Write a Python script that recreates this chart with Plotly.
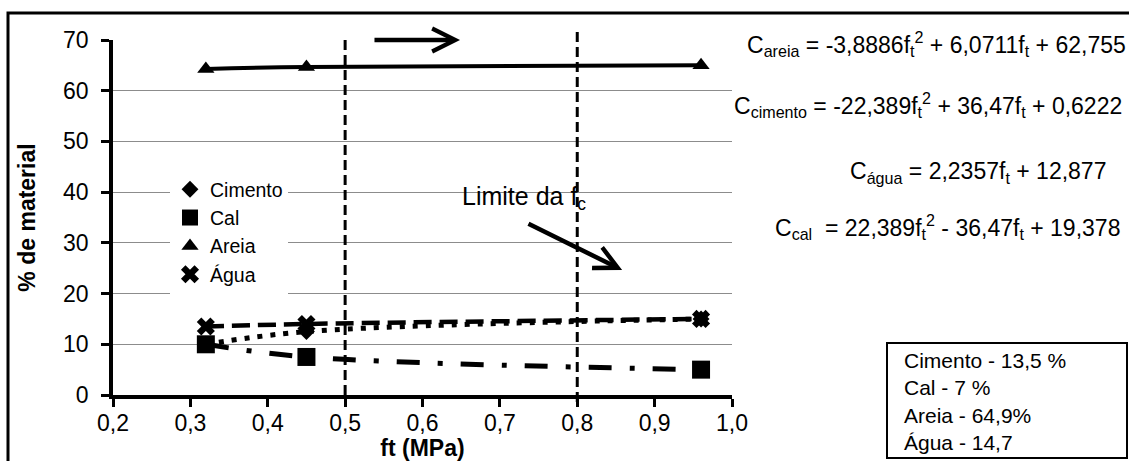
import plotly.graph_objects as go

# ---- data -------------------------------------------------------------
ft = [0.32, 0.45, 0.96]                 # tensile strength (MPa)
cimento = [10.0, 12.5, 15.0]            # % cement
cal = [10.0, 7.5, 5.0]                  # % lime
areia = [64.3, 64.7, 65.0]              # % sand
agua = [13.5, 14.0, 15.0]               # % water

limits_ft = [0.5, 0.8]                  # fc limit lines
x_ticks = [0.2, 0.3, 0.4, 0.5, 0.6, 0.7, 0.8, 0.9, 1.0]
y_ticks = [0, 10, 20, 30, 40, 50, 60, 70]

equations = [
    "C<sub>areia</sub> = -3,8886f<sub>t</sub><sup>2</sup> + 6,0711f<sub>t</sub> + 62,755",
    "C<sub>cimento</sub> = -22,389f<sub>t</sub><sup>2</sup> + 36,47f<sub>t</sub> + 0,6222",
    "C<sub>água</sub> = 2,2357f<sub>t</sub> + 12,877",
    "C<sub>cal</sub>  = 22,389f<sub>t</sub><sup>2</sup> - 36,47f<sub>t</sub> + 19,378",
]
mix_lines = ["Cimento - 13,5 %", "Cal - 7 %", "Areia - 64,9%", "Água - 14,7"]

# ---- layout geometry (pixels) ------------------------------------------
W, H = 1129, 461
L, R, T, B = 113, 732, 40, 395
FONT = "Liberation Sans, Arial, sans-serif"


def px(x):
    return (x - L) / (R - L)


def py(y):
    return (B - y) / (B - T)


fig = go.Figure()

# trend lines (no legend entries)
trend_styles = [
    (areia, dict(color="black", width=4)),
    (agua, dict(color="black", width=4.5, dash="18px,8px")),
    (cimento, dict(color="black", width=5, dash="5px,8px")),
    (cal, dict(color="black", width=5, dash="23px,18px,5px,18px")),
]
for ys, ln in trend_styles:
    fig.add_trace(go.Scatter(x=ft, y=ys, mode="lines", line=dict(shape="spline", **ln),
                             showlegend=False, hoverinfo="skip"))

# measured points
series = [
    ("Cimento", cimento, "diamond", 13),
    ("Cal", cal, "square", 18),
    ("Areia", areia, "triangle-up", 15),
    ("Água", agua, "x", 16),
]
for name, ys, sym, size in series:
    fig.add_trace(go.Scatter(x=ft, y=ys, mode="markers", name=name,
                             marker=dict(symbol=sym, size=size, color="black",
                                         line=dict(width=0))))

# fc limit lines
for xv in limits_ft:
    fig.add_shape(type="line", xref="x", yref="paper", x0=xv, x1=xv,
                  y0=py(395 if xv < 0.7 else 402), y1=py(37 if xv < 0.7 else 29),
                  line=dict(color="black", width=3, dash="10px,5px"))

# outer frame and text box
fig.add_shape(type="rect", xref="paper", yref="paper",
              x0=px(8), x1=px(1200), y0=py(520), y1=py(13),
              line=dict(color="black", width=3))
fig.add_shape(type="rect", xref="paper", yref="paper",
              x0=px(887), x1=px(1127), y0=py(458), y1=py(343),
              line=dict(color="black", width=2), fillcolor="white")

# arrows
fig.add_annotation(x=0.6485, y=70, ax=0.536, ay=70, axref="x", ayref="y",
                   xref="x", yref="y", text="", showarrow=True,
                   arrowhead=5, arrowsize=1, arrowwidth=4.5, arrowcolor="black")
fig.add_annotation(x=0.858, y=24.65, ax=0.735, ay=33.9, axref="x", ayref="y",
                   xref="x", yref="y", text="", showarrow=True,
                   arrowhead=5, arrowsize=1, arrowwidth=4.5, arrowcolor="black")
fig.add_annotation(x=px(460), y=py(198), xref="paper", yref="paper",
                   text="Limite da f<sub>c</sub>", showarrow=False,
                   xanchor="left", yanchor="middle",
                   font=dict(family=FONT, size=25, color="black"))

# trend equations
eq_pos = [(745, 44), (732, 105), (848, 173), (773, 227)]
for txt, (x0, y0) in zip(equations, eq_pos):
    fig.add_annotation(x=px(x0), y=py(y0), xref="paper", yref="paper",
                       text=txt, showarrow=False, xanchor="left", yanchor="middle",
                       font=dict(family=FONT, size=23, color="black"))

# mix composition
fig.add_annotation(x=px(902), y=py(347), xref="paper", yref="paper",
                   text="<br>".join(mix_lines), showarrow=False, align="left",
                   xanchor="left", yanchor="top",
                   font=dict(family=FONT, size=21, color="black"))

axis_common = dict(
    showline=True, linecolor="black", linewidth=3.5,
    ticks="outside", ticklen=8, tickwidth=3, tickcolor="black",
    tickfont=dict(family=FONT, size=23, color="black"),
    zeroline=False, automargin=False,
)

fig.update_layout(
    width=W, height=H,
    margin=dict(l=L, r=W - R, t=T, b=H - B, pad=0, autoexpand=False),
    paper_bgcolor="white", plot_bgcolor="white",
    separators=",.",
    font=dict(family=FONT, color="black"),
    xaxis=dict(range=[0.2, 1.0], tickvals=x_ticks, tickformat=".1f",
               showgrid=False, ticklabelstandoff=-3,
               title=dict(text="<b>ft (MPa)</b>", standoff=2,
                          font=dict(family=FONT, size=23, color="black")),
               **axis_common),
    yaxis=dict(range=[0, 70], tickvals=y_ticks, showgrid=True,
               gridcolor="#8c8c8c", gridwidth=1.2, ticklabelstandoff=8,
               title=dict(text="<b>% de material</b>", standoff=22,
                          font=dict(family=FONT, size=23, color="black")),
               **axis_common),
    legend=dict(x=px(170), y=py(170), xanchor="left", yanchor="top",
                bgcolor="white", borderwidth=0,
                font=dict(family=FONT, size=19.5, color="black"),
                tracegroupgap=0),
    showlegend=True,
)

fig.write_html("out.html")
